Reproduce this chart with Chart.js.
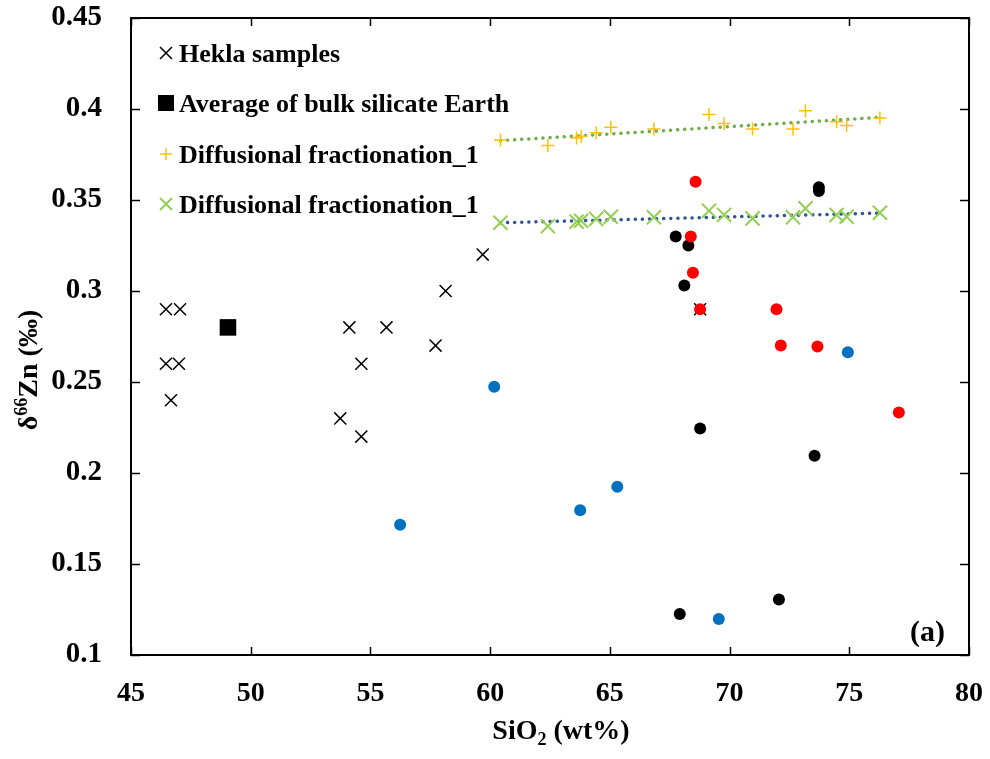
<!DOCTYPE html>
<html>
<head>
<meta charset="utf-8">
<script src="https://cdn.jsdelivr.net/npm/chart.js@4.4.1/dist/chart.umd.min.js"></script>
<style>
  html, body { margin: 0; padding: 0; background: #fff; }
  #wrap { width: 990px; height: 759px; position: relative; }
</style>
</head>
<body>
<div id="wrap"><canvas id="zn"></canvas></div>
<script>
// --- data
const xTicks = [45, 50, 55, 60, 65, 70, 75, 80];
const yTicks = [0.1, 0.15, 0.2, 0.25, 0.3, 0.35, 0.4, 0.45];

const heklaX = [46.46, 47.05, 46.46, 47.0, 46.67, 54.12, 55.67, 54.62, 57.72, 53.74, 54.62, 58.14, 59.69, 68.77];
const heklaY = [0.29, 0.29, 0.26, 0.26, 0.24, 0.28, 0.28, 0.26, 0.27, 0.23, 0.22, 0.30, 0.32, 0.29];

const bseX = [49.05];
const bseY = [0.28];

const diffX = [60.43, 62.41, 63.61, 63.80, 64.43, 65.04, 66.84, 69.14, 69.77, 70.96, 72.65, 73.17, 74.47, 74.89, 76.28];
const diffPlusY = [0.383, 0.380, 0.384, 0.385, 0.387, 0.390, 0.389, 0.397, 0.392, 0.389, 0.389, 0.399, 0.393, 0.391, 0.395];
const diffCrossY = [0.3375, 0.3356, 0.3381, 0.3386, 0.3396, 0.3408, 0.3405, 0.3441, 0.3418, 0.3399, 0.3405, 0.3454, 0.3418, 0.3408, 0.343];

const trendX = [60.43, 76.28];
const plusTrendY = [0.3826, 0.3954];
const crossTrendY = [0.3375, 0.3428];

const blackX = [73.73, 73.73, 67.75, 68.28, 68.11, 68.77, 73.55, 67.92, 72.06];
const blackY = [0.357, 0.355, 0.330, 0.325, 0.303, 0.2245, 0.2095, 0.1225, 0.1305];
const redX = [68.58, 68.38, 68.47, 68.77, 71.96, 72.14, 73.67, 77.07];
const redY = [0.360, 0.330, 0.310, 0.290, 0.290, 0.270, 0.2695, 0.2333];
const blueX = [60.17, 56.24, 63.76, 65.31, 69.55, 74.94];
const blueY = [0.2474, 0.1716, 0.1795, 0.1925, 0.1198, 0.2663];

const legendItems = ['Hekla samples', 'Average of bulk silicate Earth', 'Diffusional fractionation_1', 'Diffusional fractionation_1'];

const FONT = '"Liberation Serif", "Times New Roman", serif';
const pts = (xs, ys) => xs.map((x, i) => ({ x, y: ys[i] }));

// --- axis frame, inner ticks, axis titles, (a), legend
const framePlugin = {
  id: 'frame',
  afterDraw(c) {
    const ctx = c.ctx, a = c.chartArea, sx = c.scales.x, sy = c.scales.y;
    ctx.save();
    ctx.strokeStyle = '#000'; ctx.lineWidth = 2;
    ctx.strokeRect(a.left, a.top, a.right - a.left, a.bottom - a.top);
    ctx.lineWidth = 1.5;
    ctx.beginPath();
    xTicks.forEach(v => {
      const px = Math.round(sx.getPixelForValue(v)) + 0.5;
      ctx.moveTo(px, a.bottom); ctx.lineTo(px, a.bottom - 8);
      ctx.moveTo(px, a.top); ctx.lineTo(px, a.top + 8);
    });
    yTicks.forEach(v => {
      const py = Math.round(sy.getPixelForValue(v)) + 0.5;
      ctx.moveTo(a.left, py); ctx.lineTo(a.left + 9, py);
      ctx.moveTo(a.right, py); ctx.lineTo(a.right - 9, py);
    });
    ctx.stroke();

    ctx.fillStyle = '#000';
    ctx.textBaseline = 'alphabetic';
    // x title: SiO2 (wt%)
    const big = 'bold 28px ' + FONT, small = 'bold 18px ' + FONT;
    ctx.font = big; const w1 = ctx.measureText('SiO').width, w3 = ctx.measureText(' (wt%)').width;
    ctx.font = small; const w2 = ctx.measureText('2').width;
    let x0 = 561 - (w1 + w2 + w3) / 2, yb = 739;
    ctx.font = big; ctx.fillText('SiO', x0, yb);
    ctx.font = small; ctx.fillText('2', x0 + w1, yb + 6);
    ctx.font = big; ctx.fillText(' (wt%)', x0 + w1 + w2, yb);

    // y title: δ66Zn (‰)
    ctx.save();
    ctx.translate(37, 370); ctx.rotate(-Math.PI / 2);
    ctx.font = big; const d1 = ctx.measureText('δ').width, d3 = ctx.measureText('Zn (‰)').width;
    ctx.font = small; const d2 = ctx.measureText('66').width;
    let t0 = -(d1 + d2 + d3) / 2;
    ctx.font = big; ctx.fillText('δ', t0, 0);
    ctx.font = small; ctx.fillText('66', t0 + d1, -10);
    ctx.font = big; ctx.fillText('Zn (‰)', t0 + d1 + d2, 0);
    ctx.restore();

    // panel label
    ctx.font = 'bold 30px ' + FONT; ctx.textAlign = 'right';
    ctx.fillText('(a)', a.right - 24, 641);
    ctx.textAlign = 'left';

    // legend inside plot
    ctx.font = 'bold 26px ' + FONT;
    const rows = [53, 103, 154, 204];
    const mx = 166, tx = 179;
    legendItems.forEach((txt, i) => {
      const y = rows[i];
      ctx.lineWidth = 1.5;
      if (i === 0) {
        ctx.strokeStyle = '#000';
        ctx.beginPath(); ctx.moveTo(mx - 6, y - 6); ctx.lineTo(mx + 6, y + 6); ctx.moveTo(mx + 6, y - 6); ctx.lineTo(mx - 6, y + 6); ctx.stroke();
      } else if (i === 1) {
        ctx.fillStyle = '#000'; ctx.fillRect(mx - 8, y - 8, 16, 16);
      } else if (i === 2) {
        ctx.strokeStyle = '#FFC000';
        ctx.beginPath(); ctx.moveTo(mx - 6, y); ctx.lineTo(mx + 6, y); ctx.moveTo(mx, y - 6); ctx.lineTo(mx, y + 6); ctx.stroke();
      } else {
        ctx.strokeStyle = '#92D050'; ctx.lineWidth = 2;
        ctx.beginPath(); ctx.moveTo(mx - 6, y - 6); ctx.lineTo(mx + 6, y + 6); ctx.moveTo(mx + 6, y - 6); ctx.lineTo(mx - 6, y + 6); ctx.stroke();
      }
      ctx.fillStyle = '#000';
      ctx.fillText(txt, tx, y + 9);
    });
    ctx.restore();
  }
};

const circ = (data, color) => ({
  type: 'scatter', data, pointStyle: 'circle', pointRadius: 6, pointHoverRadius: 6,
  backgroundColor: color, borderColor: color, borderWidth: 0, order: 1
});
const trend = (data, color) => ({
  type: 'line', data, showLine: true, pointRadius: 0, borderColor: color, borderWidth: 3.5,
  borderDash: [0.1, 7], borderCapStyle: 'round', fill: false, order: 10
});

Chart.defaults.font.family = FONT;
Chart.defaults.color = '#000';

new Chart(document.getElementById('zn'), {
  type: 'scatter',
  data: {
    datasets: [
      circ(pts(redX, redY), '#FF0000'),
      circ(pts(blackX, blackY), '#000000'),
      circ(pts(blueX, blueY), '#0070C0'),
      { label: legendItems[0], data: pts(heklaX, heklaY), pointStyle: 'crossRot', pointRadius: 8.5,
        borderColor: '#000', borderWidth: 1.5, order: 5 },
      { label: legendItems[1], data: pts(bseX, bseY), pointStyle: 'rect', pointRadius: 11.7,
        backgroundColor: '#000', borderColor: '#000', borderWidth: 0, order: 5 },
      { label: legendItems[2], data: pts(diffX, diffPlusY), pointStyle: 'cross', pointRadius: 6.5,
        borderColor: '#FFC000', borderWidth: 1.5, order: 6 },
      { label: legendItems[3], data: pts(diffX, diffCrossY), pointStyle: 'crossRot', pointRadius: 10,
        borderColor: '#92D050', borderWidth: 2, order: 6 },
      trend(pts(trendX, plusTrendY), '#70AD47'),
      trend(pts(trendX, crossTrendY), '#2F5597')
    ]
  },
  options: {
    responsive: true, maintainAspectRatio: false, animation: false, devicePixelRatio: 1,
    layout: { padding: { top: 18, right: 21, left: 0, bottom: 0 } },
    plugins: { legend: { display: false }, tooltip: { enabled: false } },
    scales: {
      x: {
        type: 'linear', min: 45, max: 80,
        afterBuildTicks: s => { s.ticks = xTicks.map(v => ({ value: v })); },
        afterFit: s => { s.height = 104; s.paddingLeft = 0; s.paddingRight = 0; },
        grid: { display: false }, border: { display: false },
        ticks: { font: { size: 28, weight: 'bold' }, padding: 14, maxRotation: 0,
          callback: v => String(v) }
      },
      y: {
        type: 'linear', min: 0.1, max: 0.45,
        afterBuildTicks: s => { s.ticks = yTicks.map(v => ({ value: v })); },
        afterFit: s => { s.width = 131; s.paddingTop = 0; s.paddingBottom = 0; },
        grid: { display: false }, border: { display: false },
        ticks: { font: { size: 29, weight: 'bold' }, padding: 21,
          callback: v => String(Number(v.toFixed(2))) }
      }
    }
  },
  plugins: [framePlugin]
});
</script>
</body>
</html>
